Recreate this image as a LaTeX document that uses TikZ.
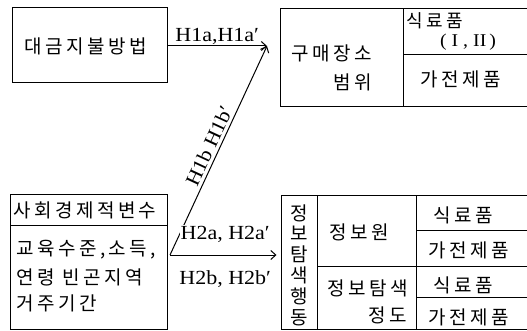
\documentclass[tikz,border=0pt]{standalone}
\usepackage{fontspec}
\newfontfamily\kr[LetterSpace=18]{Noto Sans CJK KR}
\newfontfamily\lat[FakeStretch=1.1]{Liberation Serif}
\usetikzlibrary{positioning,arrows.meta,calc}

\begin{document}
\begin{tikzpicture}[x=1pt,y=-1pt,>={Straight Barb[length=5pt,width=9pt]},line width=1pt,
  box/.style={draw,rectangle,inner sep=0pt},
  kt/.style={font=\kr\fontsize{19}{20.8}\selectfont,inner sep=0pt},
  hyp/.style={font=\lat\fontsize{20}{20}\selectfont,inner sep=1pt}]
  \useasboundingbox (0,0) rectangle (527,331);
  % boxes
  \node[box,minimum width=155,minimum height=75] (pay) at (89.5,45.5) {};
  \node[box,minimum width=250,minimum height=98] (store) at (405,58) {};
  \node[box,minimum width=157,minimum height=134.5] (socio) at (88.5,262.25) {};
  \node[box,minimum width=249,minimum height=133.5] (search) at (405.5,262.75) {};
  % inner lines
  \draw (403,9) -- (403,107);
  \draw (403,55) -- (530,55);
  \draw (10,225) -- (167,225);
  \draw (317,196) -- (317,329.5);
  \draw (416,196) -- (416,329.5);
  \draw (317,266) -- (530,266);
  \draw (416,230) -- (530,230);
  \draw (416,297) -- (530,297);
  % texts
  \node[kt] (payt) at (85.5,46) {대금지불방법};
  \node[kt,anchor=west] (st1) at (291,53) {구매장소};
  \node[kt,anchor=east] (st2) at (372,82) {범위};
  \node[kt,anchor=west,font=\kr\fontsize{18}{20}\selectfont] (food1) at (406,21) {식료품};
  \node[hyp,font=\lat\fontsize{18}{18}\selectfont] (food1b) at (468,42) {(\;I\;,\;II\,)};
  \node[kt] (elec1) at (461,79) {가전제품};
  \node[kt] (so1) at (85,210) {사회경제적변수};
  \node[kt,anchor=west] (so2) at (16,250) {교육수준,소득,};
  \node[kt,anchor=west] (so3) at (16,277) {연령 빈곤지역};
  \node[kt,anchor=west] (so4) at (16,303) {거주기간};
  \node[kt,align=center] (act) at (299,265) {정\\보\\탐\\색\\행\\동};
  \node[kt] (src1) at (359,232) {정보원};
  \node[kt,anchor=west] (deg1) at (327,288) {정보탐색};
  \node[kt,anchor=east] (deg2) at (407,315) {정도};
  \node[kt] (food2) at (463,215) {식료품};
  \node[kt] (elec2) at (469,250) {가전제품};
  \node[kt] (food3) at (463,285) {식료품};
  \node[kt] (elec3) at (469,317) {가전제품};
  % arrows
  \coordinate (tip) at (267,46);
  \coordinate (src) at (170,255);
  \draw[->] (pay.east |- tip) -- (tip) node[midway,above=0pt,hyp]{H1a,H1a′};
  \draw[->] (src) -- (tip) node[midway,sloped,above=2pt,hyp]{H1b H1b′};
  \draw[->,shorten >=4pt] (src) -- (search.west |- src)
    node[midway,above=11pt,hyp,fill=white]{H2a, H2a′}
    node[midway,below=14pt,hyp]{H2b, H2b′};
\end{tikzpicture}
\end{document}
